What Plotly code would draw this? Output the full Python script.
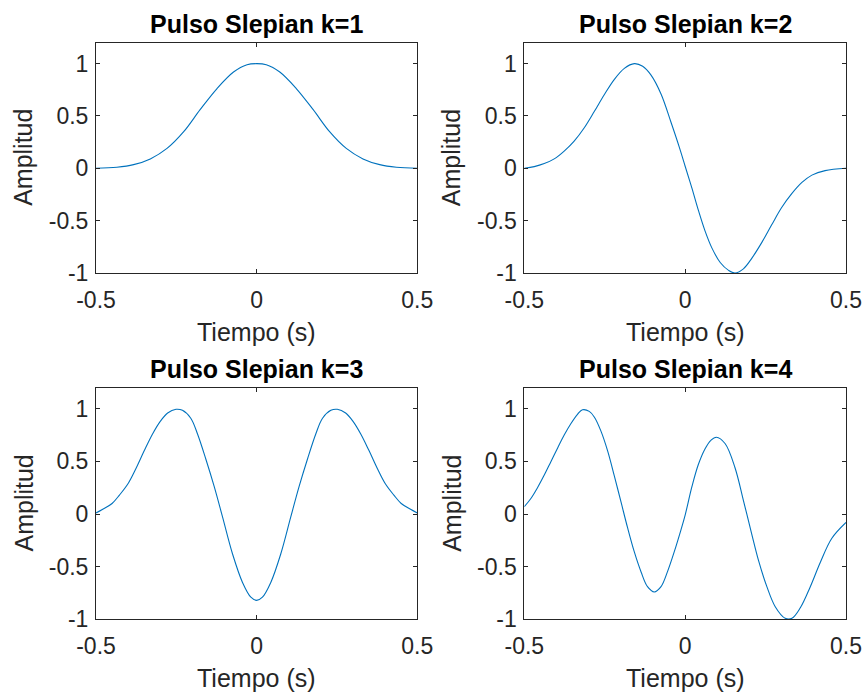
import plotly.graph_objects as go

# ---- data ----
t_k1 = [-0.5, -0.435, -0.383, -0.331, -0.279, -0.227, -0.176, -0.124, -0.072, -0.030, 0.0,
        0.030, 0.072, 0.124, 0.176, 0.227, 0.279, 0.331, 0.383, 0.435, 0.5]
y_k1 = [0.0, 0.01, 0.035, 0.09, 0.19, 0.35, 0.56, 0.76, 0.92, 0.99, 1.0,
        0.99, 0.92, 0.76, 0.56, 0.35, 0.19, 0.09, 0.035, 0.01, 0.0]

t_k2 = [-0.5, -0.469, -0.438, -0.407, -0.376, -0.345, -0.313, -0.282, -0.251, -0.220, -0.189,
        -0.158, -0.132, -0.106, -0.075, -0.044, -0.018, 0.0, 0.021, 0.041, 0.062, 0.083,
        0.109, 0.135, 0.155, 0.181, 0.207, 0.238, 0.269, 0.30, 0.332, 0.363, 0.394, 0.435, 0.5]
y_k2 = [0.0, 0.016, 0.045, 0.09, 0.165, 0.26, 0.39, 0.545, 0.705, 0.85, 0.955,
        1.0, 0.975, 0.89, 0.71, 0.44, 0.20, 0.02, -0.19, -0.40, -0.60, -0.76,
        -0.90, -0.975, -1.0, -0.96, -0.86, -0.71, -0.54, -0.375, -0.24, -0.135, -0.065, -0.022, 0.0]

t_k3 = [-0.5, -0.479, -0.45, -0.427, -0.40, -0.376, -0.35, -0.324, -0.30, -0.277, -0.251,
        -0.231, -0.205, -0.184, -0.158, -0.132, -0.106, -0.075, -0.044, -0.018, 0.0,
        0.018, 0.044, 0.075, 0.106, 0.132, 0.158, 0.184, 0.205, 0.231, 0.251, 0.277,
        0.30, 0.324, 0.35, 0.376, 0.40, 0.427, 0.45, 0.479, 0.5]
y_k3 = [0.01, 0.045, 0.10, 0.18, 0.29, 0.43, 0.60, 0.76, 0.88, 0.96, 0.995,
        0.985, 0.91, 0.76, 0.52, 0.26, -0.03, -0.38, -0.65, -0.79, -0.82,
        -0.79, -0.65, -0.38, -0.03, 0.26, 0.52, 0.76, 0.91, 0.985, 0.995, 0.96,
        0.88, 0.76, 0.60, 0.43, 0.29, 0.18, 0.10, 0.045, 0.01]

t_k4 = [-0.5, -0.479, -0.459, -0.438, -0.417, -0.396, -0.376, -0.355, -0.334, -0.319, -0.298,
        -0.282, -0.262, -0.241, -0.220, -0.199, -0.179, -0.158, -0.137, -0.117, -0.096,
        -0.075, -0.054, -0.034, -0.013, 0.0, 0.021, 0.041, 0.062, 0.080, 0.097, 0.124, 0.155,
        0.181, 0.207, 0.228, 0.254, 0.280, 0.311, 0.332, 0.358, 0.389, 0.420, 0.456, 0.5]
y_k4 = [0.07, 0.15, 0.25, 0.37, 0.50, 0.63, 0.75, 0.86, 0.95, 0.99, 0.975,
        0.92, 0.79, 0.60, 0.36, 0.11, -0.13, -0.36, -0.55, -0.69, -0.74,
        -0.69, -0.54, -0.36, -0.15, -0.01, 0.26, 0.47, 0.62, 0.70, 0.73, 0.67, 0.44,
        0.13, -0.19, -0.44, -0.69, -0.88, -0.99, -0.99, -0.89, -0.69, -0.46, -0.23, -0.08]

series = [(t_k1, y_k1), (t_k2, y_k2), (t_k3, y_k3), (t_k4, y_k4)]
titles = ["Pulso Slepian k=1", "Pulso Slepian k=2", "Pulso Slepian k=3", "Pulso Slepian k=4"]
x_ticks = [-0.5, 0, 0.5]
x_ticktext = ["-0.5", "0", "0.5"]
y_ticks = [-1, -0.5, 0, 0.5, 1]
y_ticktext = ["-1", "-0.5", "0", "0.5", "1"]
x_label = "Tiempo (s)"
y_label = "Amplitud"

W, H = 867, 694
FONT = "Liberation Sans, Arial, Helvetica, sans-serif"
AX = "#262626"
LINE = "#0072BD"

# plot boxes in pixels: (left, right, top, bottom)
boxes = [(96, 417.3, 42.7, 273.0), (524.3, 846, 42.7, 273.0),
         (96, 417.3, 387.7, 619.3), (524.3, 846, 387.7, 619.3)]

fig = go.Figure()
annotations = []
for i, ((tx, ty), title, (l, r, tp, bt)) in enumerate(zip(series, titles, boxes)):
    n = "" if i == 0 else str(i + 1)
    fig.add_trace(go.Scatter(x=tx, y=ty, mode="lines",
                             line=dict(color=LINE, width=1.1, shape="spline", smoothing=1.0),
                             xaxis="x" + n, yaxis="y" + n, showlegend=False, hoverinfo="skip"))
    xd = [l / W, r / W]
    yd = [1 - bt / H, 1 - tp / H]
    common = dict(showline=True, linecolor=AX, linewidth=1, mirror="ticks", ticks="inside",
                  ticklen=4, tickwidth=1, tickcolor=AX, showgrid=False, zeroline=False,
                  automargin=False, tickfont=dict(family=FONT, size=23, color=AX))
    fig.update_layout(**{
        "xaxis" + n: dict(domain=xd, range=[-0.5, 0.5], tickvals=x_ticks, ticktext=x_ticktext,
                          anchor="y" + n, ticklabelstandoff=6, **common),
        "yaxis" + n: dict(domain=yd, range=[-1, 1.2], tickvals=y_ticks, ticktext=y_ticktext,
                          anchor="x" + n, ticklabelstandoff=2, **common),
    })
    cx = (l + r) / 2
    annotations.append(dict(text="<b>" + title + "</b>", x=cx / W, y=1 - 24 / H if i < 2 else 1 - 369 / H,
                            xref="paper", yref="paper", xanchor="center", yanchor="middle",
                            showarrow=False, font=dict(family=FONT, size=25, color="#000000")))
    annotations.append(dict(text=x_label, x=cx / W, y=1 - (bt + 59) / H,
                            xref="paper", yref="paper", xanchor="center", yanchor="middle",
                            showarrow=False, font=dict(family=FONT, size=25, color=AX)))
    annotations.append(dict(text=y_label, x=(l - 73) / W, y=1 - (tp + bt) / 2 / H, textangle=-90,
                            xref="paper", yref="paper", xanchor="center", yanchor="middle",
                            showarrow=False, font=dict(family=FONT, size=25, color=AX)))

fig.update_layout(width=W, height=H, margin=dict(l=0, r=0, t=0, b=0, autoexpand=False),
                  paper_bgcolor="white", plot_bgcolor="white", annotations=annotations)
fig.write_html("out.html")
